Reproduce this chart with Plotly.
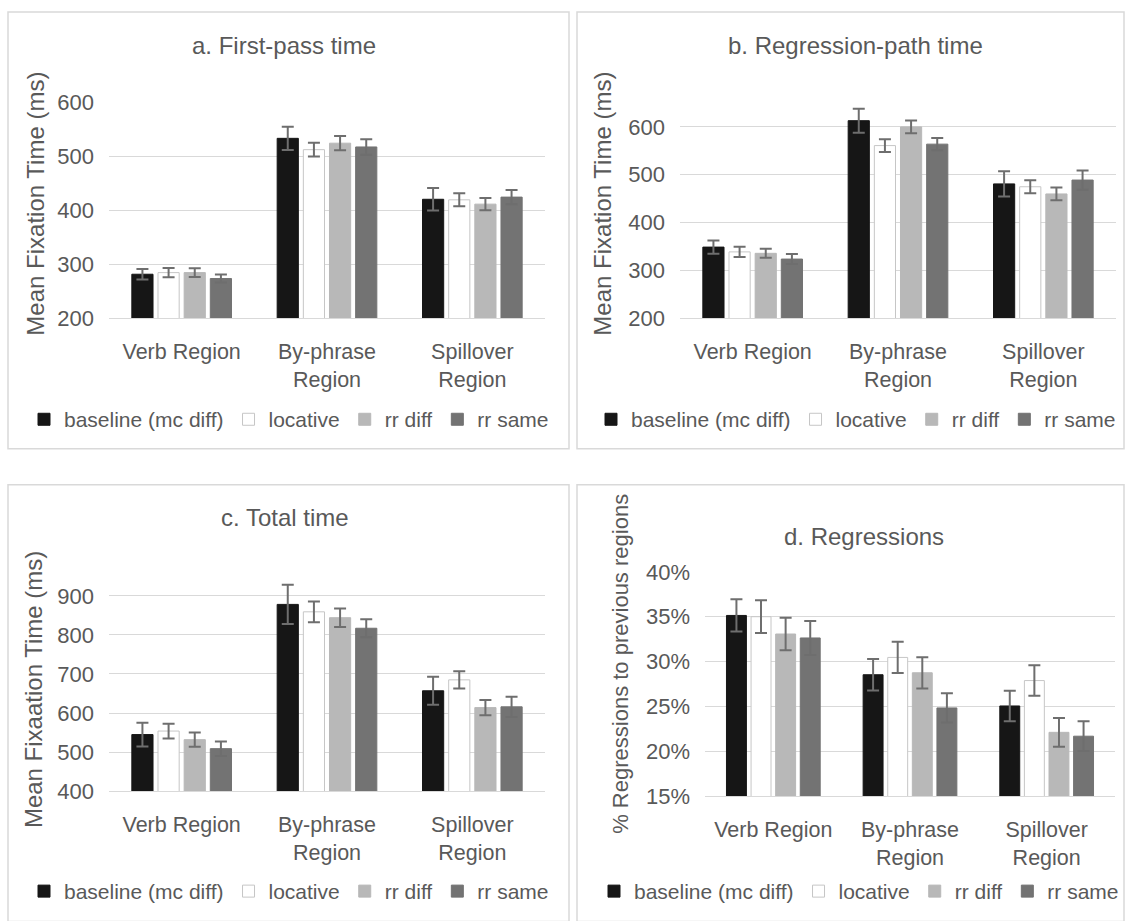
import plotly.graph_objects as go

W, H = 1131, 921

categories = ["Verb Region", "By-phrase<br>Region", "Spillover<br>Region"]
series_names = ["baseline (mc diff)", "locative", "rr diff", "rr same"]

# a. First-pass time
fp_baseline = [282, 534, 421]
fp_locative = [285, 513, 420]
fp_rrdiff = [285, 525, 412]
fp_rrsame = [274, 518, 425]
fp_err_baseline = [9.6, 21.7, 20.7]
fp_err_locative = [8.7, 12.7, 12.0]
fp_err_rrdiff = [8.0, 13.3, 11.5]
fp_err_rrsame = [7.4, 14.2, 13.0]

# b. Regression-path time
rp_baseline = [349, 613, 481]
rp_locative = [339, 561, 475]
rp_rrdiff = [336, 600, 460]
rp_rrsame = [324, 564, 489]
rp_err_baseline = [14.0, 25.0, 26.5]
rp_err_locative = [10.5, 13.3, 13.6]
rp_err_rrdiff = [9.4, 13.3, 13.3]
rp_err_rrsame = [10.5, 12.6, 20.2]

# c. Total time
tt_baseline = [545, 878, 657]
tt_locative = [554, 859, 685]
tt_rrdiff = [532, 844, 614]
tt_rrsame = [509, 817, 616]
tt_err_baseline = [30.5, 50.0, 36.0]
tt_err_locative = [19.0, 26.7, 22.0]
tt_err_rrdiff = [18.2, 23.7, 19.5]
tt_err_rrsame = [18.6, 23.3, 26.0]

# d. Regressions (proportions)
rg_baseline = [0.3514, 0.2853, 0.2505]
rg_locative = [0.3500, 0.3046, 0.2788]
rg_rrdiff = [0.3307, 0.2875, 0.2211]
rg_rrsame = [0.3263, 0.2483, 0.2168]
rg_err_baseline = [0.0180, 0.0175, 0.0170]
rg_err_locative = [0.0183, 0.0175, 0.0170]
rg_err_rrdiff = [0.0180, 0.0174, 0.0160]
rg_err_rrsame = [0.0189, 0.0163, 0.0166]

fills = ["#161616", "#ffffff", "#b8b8b8", "#737373"]
outlines = ["#161616", "#c6c6c6", "#b8b8b8", "#737373"]

panels = [
    dict(vals=[fp_baseline, fp_locative, fp_rrdiff, fp_rrsame],
         errs=[fp_err_baseline, fp_err_locative, fp_err_rrdiff, fp_err_rrsame]),
    dict(vals=[rp_baseline, rp_locative, rp_rrdiff, rp_rrsame],
         errs=[rp_err_baseline, rp_err_locative, rp_err_rrdiff, rp_err_rrsame]),
    dict(vals=[tt_baseline, tt_locative, tt_rrdiff, tt_rrsame],
         errs=[tt_err_baseline, tt_err_locative, tt_err_rrdiff, tt_err_rrsame]),
    dict(vals=[rg_baseline, rg_locative, rg_rrdiff, rg_rrsame],
         errs=[rg_err_baseline, rg_err_locative, rg_err_rrdiff, rg_err_rrsame]),
]

FONT = "Liberation Sans, Arial, Helvetica, sans-serif"
TXT = "#595959"
GRID = "#d9d9d9"

fig = go.Figure()
axis_suffix = ["", "2", "3", "4"]
legend_names = ["legend", "legend2", "legend3", "legend4"]

for p, panel in enumerate(panels):
    for s in range(4):
        fig.add_trace(go.Bar(
            x=categories, y=panel["vals"][s], name=series_names[s],
            xaxis="x" + axis_suffix[p], yaxis="y" + axis_suffix[p],
            legend=legend_names[p],
            marker=dict(color=fills[s], line=dict(color=outlines[s], width=1)),
            error_y=dict(type="data", array=panel["errs"][s], visible=True,
                         color="#6e6e6e", thickness=2, width=6),
        ))

def px_x(v):
    return v / W

def px_y(v):
    return 1 - v / H

# plot-area geometry (pixels)
geo = [
    dict(x=(109, 545), y=(93, 315), rng=[200, 600.5], dtick=100, fmt=None),
    dict(x=(680, 1116), y=(93.5, 315), rng=[200, 650], dtick=100, fmt=None),
    dict(x=(109, 545), y=(580, 801), rng=[400, 950], dtick=100, fmt=None),
    dict(x=(705, 1115), y=(575, 806), rng=[0.15, 0.4005], dtick=0.05, fmt=".0%"),
]

layout = dict(
    width=W, height=H, margin=dict(l=0, r=0, t=0, b=0), autosize=False,
    paper_bgcolor="white", plot_bgcolor="white",
    barmode="group", bargap=0.28, bargroupgap=0.19,
    font=dict(family=FONT, color=TXT, size=21),
    showlegend=True,
)

for p, g in enumerate(geo):
    sfx = axis_suffix[p]
    layout["xaxis" + sfx] = dict(
        domain=[px_x(g["x"][0]), px_x(g["x"][1])], anchor="y" + sfx,
        showline=True, linecolor=GRID, linewidth=1, showgrid=False,
        ticks="", tickfont=dict(size=21.5, color=TXT, family=FONT),
        ticklabelstandoff=14, fixedrange=True,
    )
    ya = dict(
        domain=[px_y(g["y"][1]), px_y(g["y"][0])], anchor="x" + sfx,
        range=g["rng"], dtick=g["dtick"], tick0=0,
        showgrid=True, gridcolor=GRID, gridwidth=1, zeroline=False,
        showline=False, ticks="", tickfont=dict(size=22, color=TXT, family=FONT),
        ticklabelstandoff=14, fixedrange=True,
    )
    if g["fmt"]:
        ya["tickformat"] = g["fmt"]
    layout["yaxis" + sfx] = ya

legend_pos = [(289, 419), (856, 419), (289, 904), (859, 904)]
for p, (lx, ly) in enumerate(legend_pos):
    layout[legend_names[p]] = dict(
        orientation="h", x=px_x(lx), y=px_y(ly), xanchor="center", yanchor="middle",
        font=dict(size=21, color=TXT, family=FONT), bgcolor="rgba(0,0,0,0)",
        itemclick=False, itemdoubleclick=False, traceorder="normal",
        tracegroupgap=0, itemwidth=30,
    )

fig.update_layout(**layout)

# panel frames
frames = [(8, 0, 569, 449), (577, 0, 1124, 449), (8, 486, 569, 935), (577, 486, 1124, 935)]
for (x0, y0, x1, y1) in frames:
    fig.add_shape(type="rect", xref="paper", yref="paper",
                  x0=px_x(x0), x1=px_x(x1), y0=px_y(y1), y1=px_y(y0),
                  line=dict(color=GRID, width=1.5), fillcolor="rgba(0,0,0,0)", layer="below")

titles = [("a. First-pass time", 284, 34), ("b. Regression-path time", 855, 34),
          ("c. Total time", 285, 520), ("d. Regressions", 864, 539)]
for t, tx, ty in titles:
    fig.add_annotation(text=t, xref="paper", yref="paper", x=px_x(tx), y=px_y(ty),
                       xanchor="center", yanchor="middle", showarrow=False,
                       font=dict(size=24, color=TXT, family=FONT))

ytitles = [("Mean Fixation Time (ms)", 36, 197, 24), ("Mean Fixation Time (ms)", 603, 197, 24),
           ("Mean Fixaation Time (ms)", 33, 697, 24), ("% Regressions to previous regions", 621, 670, 22)]
for t, tx, ty, fs in ytitles:
    fig.add_annotation(text=t, xref="paper", yref="paper", x=px_x(tx), y=px_y(ty),
                       xanchor="center", yanchor="middle", showarrow=False, textangle=-90,
                       font=dict(size=fs, color=TXT, family=FONT))

post = ("document.documentElement.style.margin='0';document.body.style.margin='0';"
        "document.body.style.padding='0';document.body.style.overflow='hidden';"
        "var gd=document.getElementById('{plot_id}');gd.style.position='fixed';"
        "gd.style.left='0px';gd.style.top='0px';")

fig.write_html("out.html", config={"displayModeBar": False, "responsive": False},
               default_width="1131px", default_height="921px", post_script=post)
